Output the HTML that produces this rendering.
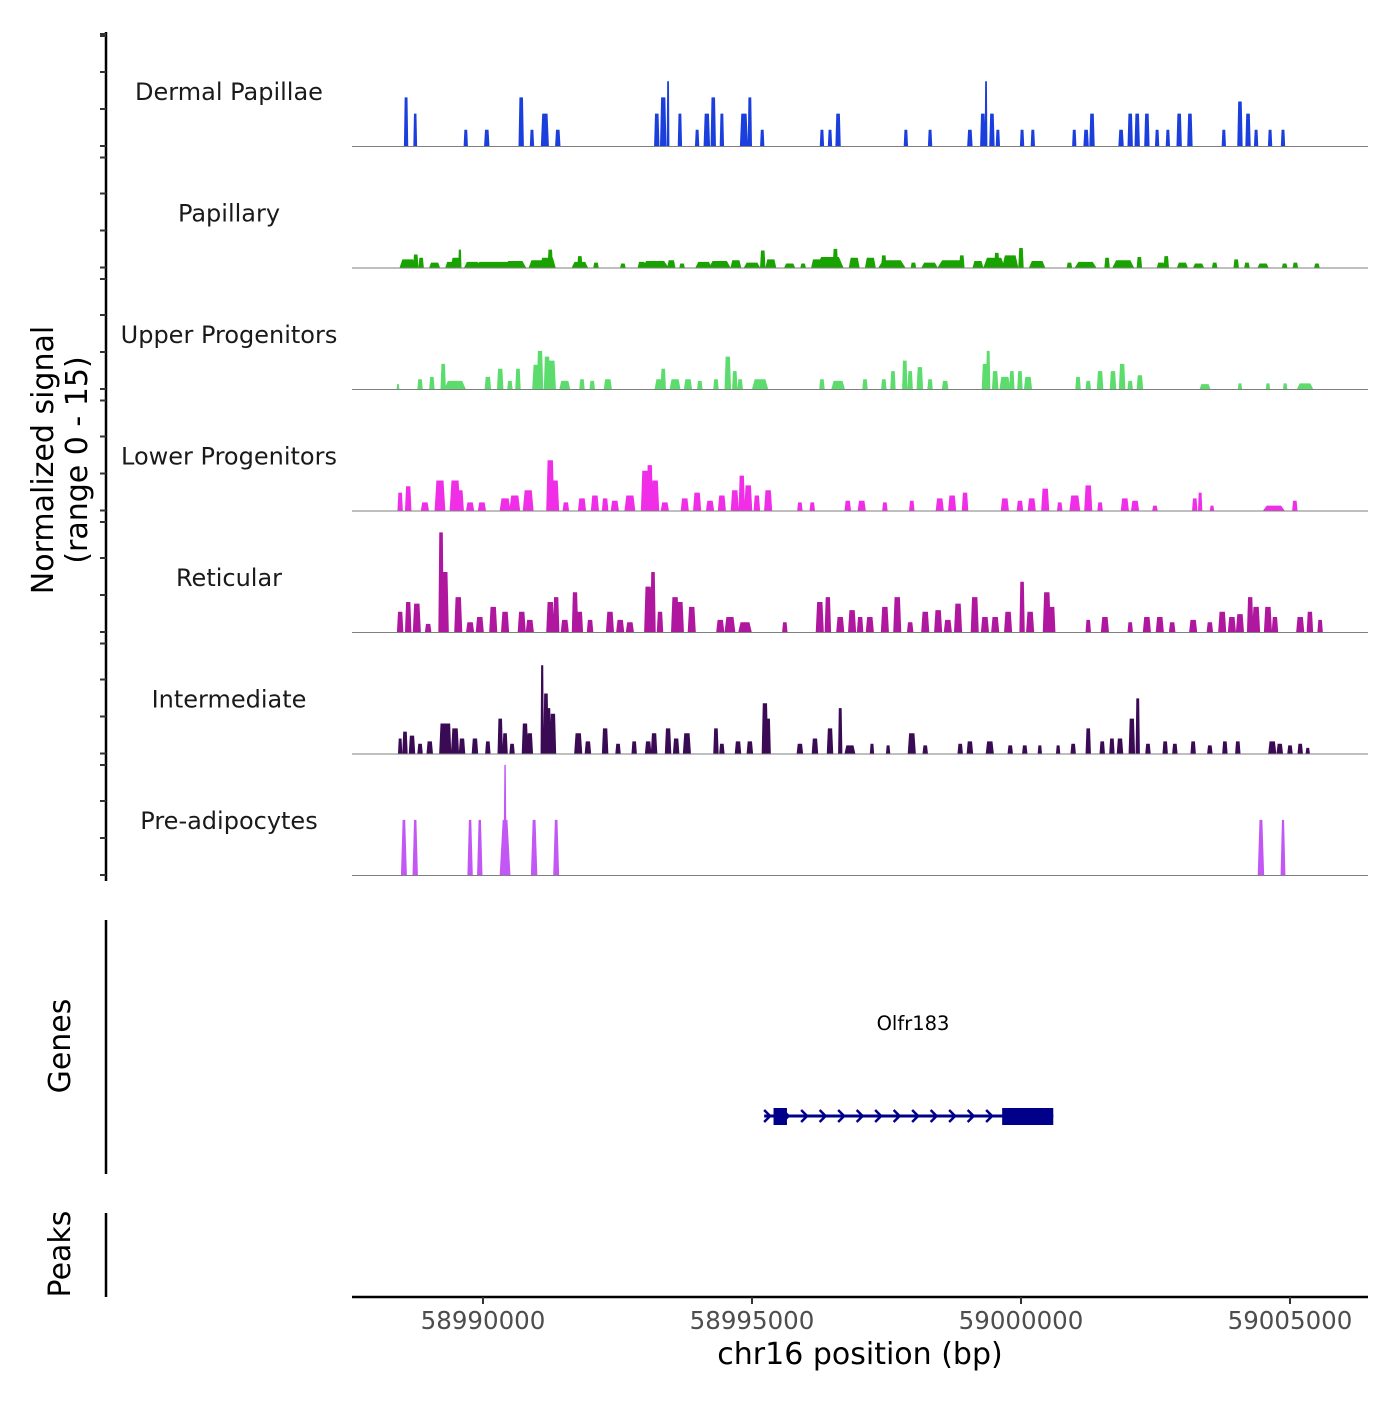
<!DOCTYPE html>
<html><head><meta charset="utf-8"><style>
html,body{margin:0;padding:0;background:#fff}
svg text{font-family:"DejaVu Sans","Liberation Sans",sans-serif}
</style></head><body>
<svg id="chart" width="1400" height="1400" viewBox="0 0 1400 1400" xmlns="http://www.w3.org/2000/svg">
<g id="tracks"></g>
<g id="axes"></g>
<g id="gene"></g>
</svg>
<script>
// Data: peaks as [center (kb offset from 58,990,000), width (kb), height (signal units 0-15)]
const trackNames = ["Dermal Papillae","Papillary","Upper Progenitors","Lower Progenitors","Reticular","Intermediate","Pre-adipocytes"];
const trackColors = ["#1a3fdc","#18a300","#5cdc6c","#f02ee8","#b0179f","#3a0a55","#c257f6"];
const dermalPeaks = [[-1.43,.08,6],[-1.26,.07,4],[-0.32,.08,2],[0.07,.1,2],[0.71,.1,6],[0.91,.08,2],[1.15,.15,4],[1.39,.1,2],[3.23,.1,4],[3.35,.12,6],[3.44,.05,8],[3.66,.08,4],[3.98,.08,2],[4.16,.12,4],[4.28,.1,6],[4.44,.08,4],[4.85,.15,4],[4.96,.08,6],[5.19,.08,2],[6.30,.08,2],[6.45,.08,2],[6.60,.1,4],[7.86,.08,2],[8.31,.08,2],[9.05,.1,2],[9.29,.1,4],[9.35,.05,8],[9.46,.1,4],[9.57,.08,2],[10.02,.08,2],[10.22,.08,2],[10.99,.08,2],[11.21,.1,2],[11.32,.1,4],[11.86,.1,2],[12.03,.1,4],[12.16,.1,4],[12.34,.1,4],[12.53,.08,2],[12.73,.08,2],[12.94,.1,4],[13.14,.1,4],[13.77,.08,2],[14.07,.1,5.5],[14.22,.1,4],[14.37,.08,2],[14.63,.08,2],[14.87,.08,2]];
const papillaryPeaks = [[-1.4,.3,1],[-1.25,.1,1.6],[-1.15,.1,1.2],[-0.9,.2,.6],[-0.6,.2,.7],[-0.43,.06,2.2],[-0.5,.2,1.2],[-0.2,.3,.7],[0.2,.8,.7],[0.6,.4,.8],[1.0,.3,.9],[1.25,.1,2.2],[1.2,.3,1.2],[1.8,.1,1.4],[1.8,.3,.7],[2.1,.1,.6],[2.6,.1,.5],[2.95,.15,.7],[3.2,.5,.8],[3.5,.15,.9],[3.7,.1,.5],[4.1,.3,.7],[4.4,.4,.8],[4.7,.2,.9],[5.0,.3,.6],[5.2,.1,2.1],[5.35,.2,1],[5.7,.2,.5],[5.95,.1,.5],[6.2,.2,1],[6.45,.5,1.3],[6.55,.1,2.3],[6.9,.2,1.2],[7.2,.2,1.2],[7.45,.1,1.5],[7.6,.5,.9],[8.0,.1,.6],[8.3,.3,.6],[8.7,.5,.9],[8.9,.1,1.5],[9.2,.2,.8],[9.5,.4,1.2],[9.55,.1,1.8],[9.8,.3,1.5],[10.0,.1,2.4],[10.3,.3,.8],[10.9,.1,.6],[11.2,.4,.7],[11.6,.1,1.2],[11.9,.4,.9],[12.2,.1,1.3],[12.6,.15,.6],[12.7,.1,1.4],[13.0,.2,.6],[13.3,.2,.5],[13.6,.1,.6],[14.0,.1,1.0],[14.2,.1,.6],[14.5,.2,.5],[14.9,.1,.5],[15.1,.1,.6],[15.5,.1,.5]];
const upperPeaks = [[-1.58,.05,.6],[-1.17,.1,1.2],[-0.95,.1,1.5],[-0.74,.1,3.1],[-0.52,.4,1],[0.09,.12,1.5],[0.32,.12,2.5],[0.5,.1,1],[0.65,.1,2.5],[0.99,.15,3],[1.06,.12,4.7],[1.19,.12,4],[1.28,.15,3.5],[1.52,.2,1],[1.84,.1,1.2],[2.03,.1,1],[2.32,.15,1.2],[3.29,.2,1.2],[3.35,.1,2.5],[3.57,.2,1.2],[3.81,.15,1.2],[4.03,.1,1],[4.33,.1,1.2],[4.55,.12,4],[4.68,.1,2.2],[4.78,.1,1.2],[5.15,.3,1.2],[6.30,.1,1.2],[6.6,.25,1],[7.1,.1,1.2],[7.45,.1,1.2],[7.62,.1,2.2],[7.84,.1,3.5],[7.94,.1,2.2],[8.12,.12,2.7],[8.31,.1,1.2],[8.59,.12,1],[9.33,.12,3.1],[9.39,.08,4.7],[9.52,.12,2.2],[9.7,.2,1.5],[9.83,.1,2.2],[9.98,.1,2.2],[10.13,.15,1.5],[11.06,.1,1.5],[11.25,.1,1],[11.47,.12,2.2],[11.71,.12,2.2],[11.88,.12,3.1],[12.03,.1,1],[12.21,.12,1.7],[13.42,.2,.6],[14.07,.08,.7],[14.59,.08,.7],[14.91,.08,.7],[15.28,.3,.7]];
const lowerPeaks = [[-1.54,.1,2.2],[-1.39,.12,3],[-1.08,.15,1],[-0.80,.2,3.7],[-0.52,.2,3.7],[-0.43,.15,2.5],[-0.24,.15,1],[-0.02,.15,1],[0.41,.2,1.5],[0.59,.2,1.85],[0.84,.2,2.5],[1.25,.15,6.2],[1.34,.15,3.7],[1.54,.12,1],[1.84,.15,1.5],[2.08,.15,1.85],[2.27,.12,1.5],[2.45,.15,1.2],[2.73,.2,1.85],[3.01,.15,4.9],[3.10,.12,5.6],[3.20,.15,3.7],[3.38,.15,1],[3.75,.15,1.5],[3.98,.15,2.2],[4.22,.15,1.2],[4.44,.15,1.85],[4.68,.15,2.5],[4.81,.12,4.3],[4.93,.15,3.1],[5.09,.12,1.85],[5.30,.15,2.5],[5.89,.1,1],[6.12,.1,1],[6.78,.12,1.2],[7.04,.15,1.2],[7.47,.1,1],[7.97,.1,1.2],[8.49,.15,1.5],[8.72,.15,1.85],[8.96,.12,2.2],[9.70,.15,1.5],[9.98,.12,1.2],[10.20,.15,1.5],[10.45,.15,2.7],[10.72,.1,1],[11.00,.2,1.85],[11.25,.15,3.1],[11.47,.1,1],[11.93,.15,1.5],[12.12,.15,1.2],[12.49,.1,.6],[13.23,.1,1.5],[13.33,.08,2.2],[13.55,.08,.6],[14.70,.4,.6],[15.09,.1,1.2]];
const reticularPeaks = [[-1.54,.12,2.5],[-1.39,.12,3.7],[-1.23,.15,3.5],[-1.02,.12,1],[-0.78,.1,12.3],[-0.71,.15,7.4],[-0.46,.15,4.3],[-0.24,.15,1.2],[-0.06,.15,1.85],[0.19,.15,3.1],[0.41,.15,2.5],[0.72,.15,2.5],[0.87,.15,1.5],[1.25,.15,3.7],[1.36,.12,4.3],[1.52,.15,1.5],[1.71,.12,4.9],[1.80,.12,2.5],[1.99,.12,1.5],[2.36,.15,2.5],[2.55,.15,1.5],[2.73,.15,1.2],[3.07,.15,5.6],[3.16,.1,7.4],[3.29,.12,2.5],[3.57,.15,4.3],[3.66,.15,3.7],[3.88,.15,3.1],[4.41,.15,1.5],[4.59,.2,1.85],[4.87,.25,1.2],[5.61,.1,1.2],[6.26,.15,3.7],[6.41,.12,4.3],[6.64,.15,1.85],[6.86,.15,2.7],[7.01,.12,1.85],[7.19,.15,1.85],[7.47,.15,3.1],[7.70,.15,4.3],[7.94,.12,1.2],[8.22,.15,2.5],[8.46,.15,2.7],[8.64,.15,1.5],[8.83,.15,3.5],[9.14,.15,4.3],[9.33,.15,1.85],[9.52,.15,1.85],[9.76,.15,2.5],[10.02,.1,6.2],[10.17,.15,2.5],[10.48,.15,4.9],[10.58,.12,3.1],[11.25,.1,1.5],[11.56,.15,1.85],[12.03,.1,1.2],[12.34,.15,1.85],[12.58,.15,1.85],[12.81,.12,1.2],[13.20,.15,1.5],[13.51,.12,1.2],[13.74,.15,2.5],[13.92,.15,1.85],[14.07,.15,2.2],[14.26,.12,4.3],[14.37,.15,3.1],[14.59,.15,3.1],[14.72,.12,1.85],[15.19,.15,1.85],[15.37,.12,2.5],[15.56,.1,1.5]];
const intermediatePeaks = [[-1.54,.08,1.85],[-1.45,.1,2.7],[-1.32,.12,2.2],[-1.17,.1,1.2],[-0.99,.12,1.5],[-0.74,.15,3.7],[-0.65,.12,3.7],[-0.52,.15,3.1],[-0.39,.12,1.85],[-0.15,.12,1.85],[0.09,.1,1.5],[0.32,.1,4.3],[0.41,.1,2.5],[0.54,.1,1.2],[0.78,.12,3.7],[0.87,.12,2.5],[1.10,.06,10.9],[1.17,.1,7.4],[1.21,.12,5.6],[1.30,.12,4.9],[1.77,.15,2.5],[1.95,.12,1.5],[2.27,.12,3.1],[2.51,.1,1.2],[2.81,.1,1.5],[3.07,.12,1.5],[3.18,.12,2.5],[3.44,.12,3.1],[3.59,.12,1.85],[3.79,.15,2.5],[4.33,.1,3.1],[4.44,.1,1.2],[4.74,.12,1.5],[4.96,.12,1.5],[5.24,.12,6.2],[5.30,.1,4.3],[5.89,.12,1.2],[6.17,.12,1.85],[6.45,.12,3.1],[6.64,.08,5.6],[6.82,.2,1],[7.23,.08,1.2],[7.53,.08,1],[7.97,.15,2.5],[8.22,.1,1],[8.87,.1,1.2],[9.05,.12,1.5],[9.42,.15,1.5],[9.80,.1,1],[10.07,.1,1],[10.35,.08,1],[10.69,.08,1],[10.97,.1,1.2],[11.25,.1,3.1],[11.51,.1,1.5],[11.69,.1,1.85],[11.84,.12,1.85],[12.06,.12,4.3],[12.17,.08,6.8],[12.36,.1,1.2],[12.68,.1,1.5],[12.86,.1,1.2],[13.20,.1,1.5],[13.51,.1,1],[13.79,.1,1.5],[14.03,.1,1.5],[14.67,.15,1.5],[14.81,.12,1.2],[15.0,.1,1],[15.19,.1,1.2],[15.33,.08,.7]];
const preadipPeaks = [[-1.47,.11,6.8],[-1.26,.1,6.8],[-0.24,.1,6.8],[-0.06,.1,6.8],[0.41,.2,6.8],[0.41,.06,13.6],[0.95,.12,6.8],[1.36,.11,6.8],[14.46,.12,6.8],[14.87,.09,6.8]];
const allPeaks = [dermalPeaks,papillaryPeaks,upperPeaks,lowerPeaks,reticularPeaks,intermediatePeaks,preadipPeaks];
const xTicks = [58990000,58995000,59000000,59005000];
const geneExons = [[58995400,58995650],[58999650,59000600]];
const geneSpan = [58995300,59000600];

const NS="http://www.w3.org/2000/svg";
const X0=352,X1=1368,dMin=58987565,dMax=59006450;
function xScale(bp){return X0+(bp-dMin)/(dMax-dMin)*(X1-X0);}
function kbX(kb){return xScale(58990000+kb*1000);}
const trackH=121.5, baseTop=146;
function baseY(i){return baseTop+i*trackH;}
function yScale(v,i){return baseY(i)-v/15*trackH;}
function mk(tag,attrs,parent){const e=document.createElementNS(NS,tag);for(const k in attrs)e.setAttribute(k,attrs[k]);parent.appendChild(e);return e;}

const tg=document.getElementById('tracks');
allPeaks.forEach((peaks,i)=>{
  const g=mk('g',{},tg);
  
  
  const lab=mk('text',{x:229,y:baseY(i)-46,'text-anchor':'middle','font-size':'24',fill:'#1a1a1a'},g);
  lab.textContent=trackNames[i];
  
  
  let d='';
  const tf = i===6 ? 0.22 : 0.33;
  peaks.forEach(p=>{
    const xa=kbX(p[0]-p[1]/2), xb=kbX(p[0]+p[1]/2), c=kbX(p[0]);
    const tw=(xb-xa)*tf, yt=yScale(p[2],i), yb=baseY(i);
    d+=`M${xa},${yb}L${c-tw},${yt}L${c+tw},${yt}L${xb},${yb}Z`;
  });
  const path=mk('path',{d:d,fill:trackColors[i]},g);
  
  
  const bl=mk('line',{x1:X0,x2:X1,y1:baseY(i)+0.5,y2:baseY(i)+0.5,stroke:'#7f7f7f','stroke-width':1},g);
  
  
});

const ax=document.getElementById('axes');
const la=mk('line',{x1:106,x2:106,y1:32,y2:881,stroke:'#000','stroke-width':2.5},ax);


mk('line',{x1:100,x2:106,y1:34,y2:34,stroke:'#333','stroke-width':2},ax);
for(let i=0;i<7;i++){
  [110,74,37,0].forEach(o=>{
    const t=mk('line',{x1:100,x2:106,y1:baseY(i)-o,y2:baseY(i)-o,stroke:'#333','stroke-width':2},ax);
    
    
  });
}
const yt=mk('text',{transform:'translate(53,460) rotate(-90)','text-anchor':'middle','font-size':'30',fill:'#000'},ax);


yt.innerHTML='<tspan x="0" dy="0">Normalized signal</tspan><tspan x="0" dy="34">(range 0 - 15)</tspan>';
const ga=mk('line',{x1:106,x2:106,y1:920,y2:1174,stroke:'#000','stroke-width':2.5},ax);


const gt=mk('text',{transform:'translate(70,1046) rotate(-90)','text-anchor':'middle','font-size':'30'},ax);
gt.textContent='Genes';


const pa=mk('line',{x1:106,x2:106,y1:1213,y2:1297,stroke:'#000','stroke-width':2.5},ax);


const pt=mk('text',{transform:'translate(70,1254) rotate(-90)','text-anchor':'middle','font-size':'30'},ax);
pt.textContent='Peaks';


const xa=mk('line',{x1:X0,x2:X1,y1:1297,y2:1297,stroke:'#000','stroke-width':2.5},ax);


xTicks.forEach(v=>{
  const t=mk('line',{x1:xScale(v),x2:xScale(v),y1:1297,y2:1304,stroke:'#333','stroke-width':2},ax);
  
  
  const l=mk('text',{x:xScale(v),y:1329,'text-anchor':'middle','font-size':'24.5',fill:'#4d4d4d'},ax);
  l.textContent=v;
  
  
});
const xt=mk('text',{x:860,y:1364,'text-anchor':'middle','font-size':'30'},ax);
xt.textContent='chr16 position (bp)';



const gg=document.getElementById('gene');
const gx0=xScale(geneSpan[0]), gx1=xScale(geneSpan[1]);
const gl=mk('line',{x1:gx0-4,x2:gx1,y1:1116,y2:1116,stroke:'#00008b','stroke-width':3},gg);


for(let x=gx0-4;x<gx1-10;x+=18.5){
  const a=mk('path',{d:`M${x},${1110}L${x+6},${1116}L${x},${1122}`,stroke:'#00008b','stroke-width':2.5,fill:'none'},gg);
  
  
}
geneExons.forEach(e=>{
  const r=mk('rect',{x:xScale(e[0]),y:1108,width:xScale(e[1])-xScale(e[0]),height:17,fill:'#00008b'},gg);
  
  
});
const gn=mk('text',{x:913,y:1030,'text-anchor':'middle','font-size':'19.5'},gg);
gn.textContent='Olfr183';


</script>
</body></html>
